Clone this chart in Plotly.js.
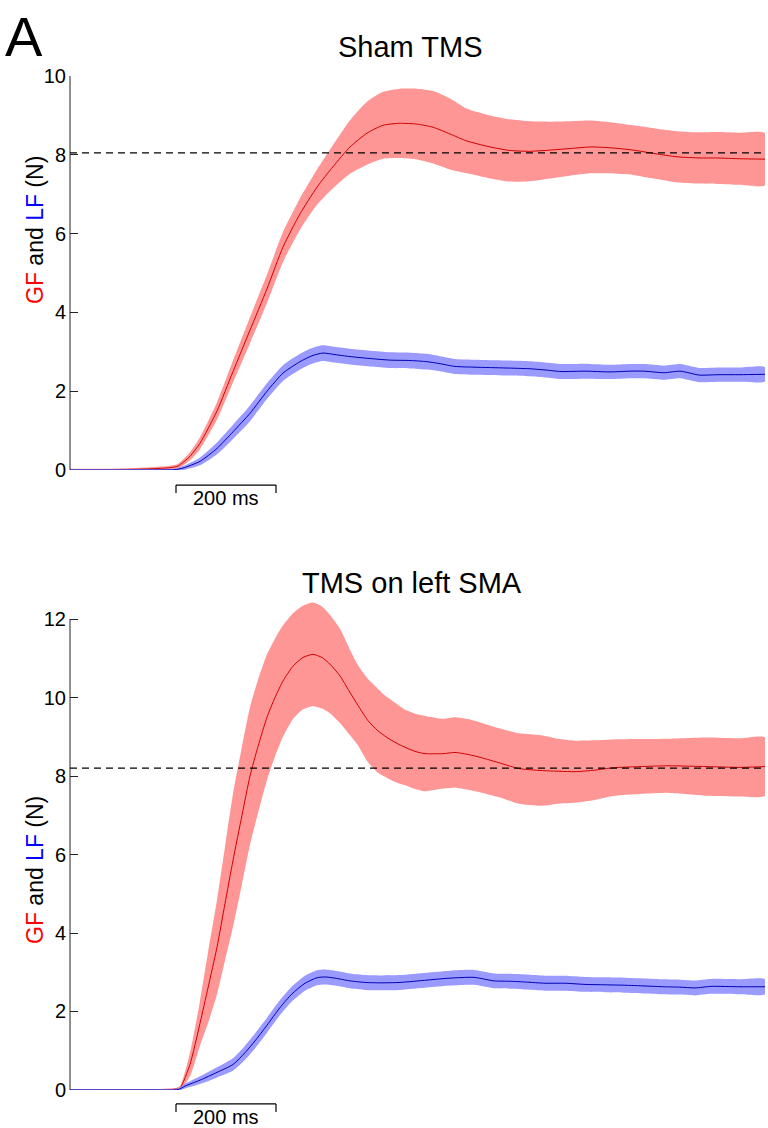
<!DOCTYPE html>
<html>
<head>
<meta charset="utf-8">
<script src="https://cdn.plot.ly/plotly-3.0.1.min.js"></script>
<style>
html,body{margin:0;padding:0;background:#fff;}
#chart{width:768px;height:1128px;}
</style>
</head>
<body>
<div id="chart"></div>
<script>
// ---------- DATA (time in ms, force in N) ----------
// Panel 1: Sham TMS
var shamGF_t   = [0,100,160,200,216,240,260,294,326,360,394,426,460,494,526,560,594,626,660,694,726,760,794,840,880,920,960,1000,1040,1080,1126,1170,1214,1260,1294,1340,1390];
var shamGF_mean= [0,0.01,0.03,0.06,0.1,0.35,0.68,1.5,2.5,3.55,4.6,5.66,6.5,7.18,7.7,8.2,8.55,8.75,8.8,8.78,8.7,8.53,8.35,8.2,8.11,8.09,8.12,8.16,8.2,8.18,8.12,8.03,7.95,7.92,7.92,7.9,7.89];
var shamGF_sem = [0.03,0.03,0.04,0.05,0.06,0.1,0.15,0.22,0.28,0.33,0.36,0.38,0.4,0.45,0.55,0.68,0.8,0.85,0.88,0.9,0.92,0.9,0.82,0.8,0.79,0.76,0.72,0.69,0.67,0.65,0.63,0.64,0.65,0.65,0.66,0.66,0.66];

var shamLF_t   = [0,160,210,226,260,294,326,360,394,426,460,484,506,530,560,600,640,680,714,740,770,810,872,920,950,982,1030,1080,1120,1148,1188,1220,1240,1258,1300,1340,1390];
var shamLF_mean= [0,0,0.01,0.05,0.22,0.55,0.97,1.44,2.0,2.46,2.75,2.9,2.97,2.93,2.88,2.83,2.79,2.78,2.75,2.7,2.63,2.61,2.59,2.57,2.54,2.5,2.51,2.49,2.51,2.51,2.47,2.51,2.46,2.41,2.42,2.42,2.43];
var shamLF_sem = [0.02,0.02,0.03,0.05,0.1,0.15,0.18,0.2,0.2,0.2,0.2,0.2,0.2,0.2,0.2,0.2,0.2,0.2,0.2,0.19,0.19,0.19,0.19,0.19,0.19,0.19,0.19,0.18,0.18,0.18,0.18,0.18,0.18,0.18,0.18,0.18,0.18];

var shamTarget = 8.05;

// Panel 2: TMS on left SMA
var smaGF_t   = [0,160,210,220,240,260,276,294,310,326,344,360,376,394,410,426,446,466,486,504,520,540,558,576,596,616,634,654,672,692,710,746,770,796,822,860,898,942,980,1010,1050,1086,1140,1198,1274,1340,1390];
var smaGF_mean= [0,0,0.02,0.05,0.65,1.7,2.6,3.64,4.75,5.85,7.0,8.0,8.75,9.5,10.0,10.42,10.8,11.02,11.1,11.02,10.85,10.55,10.17,9.8,9.41,9.15,8.98,8.83,8.72,8.62,8.57,8.57,8.6,8.55,8.47,8.33,8.19,8.14,8.12,8.11,8.15,8.21,8.24,8.26,8.24,8.22,8.24];
var smaGF_sem = [0.02,0.02,0.03,0.05,0.3,0.57,0.9,1.2,1.45,1.7,1.75,1.75,1.7,1.6,1.5,1.42,1.35,1.32,1.32,1.3,1.25,1.2,1.1,1.02,1.06,1.07,1.03,1.0,0.96,0.96,0.96,0.89,0.9,0.9,0.89,0.88,0.9,0.9,0.82,0.79,0.76,0.72,0.7,0.69,0.74,0.74,0.74];

var smaLF_t   = [0,160,216,230,260,294,326,350,370,394,420,444,470,494,510,530,560,590,620,660,714,760,808,848,880,912,950,990,1030,1070,1108,1150,1188,1220,1250,1282,1340,1390];
var smaLF_mean= [0,0,0.01,0.1,0.25,0.45,0.65,0.95,1.25,1.65,2.1,2.45,2.72,2.86,2.88,2.85,2.78,2.74,2.73,2.74,2.8,2.85,2.87,2.78,2.77,2.75,2.72,2.72,2.69,2.68,2.67,2.65,2.63,2.62,2.6,2.64,2.63,2.63];
var smaLF_sem = [0.02,0.02,0.03,0.06,0.1,0.13,0.16,0.18,0.19,0.19,0.19,0.19,0.19,0.19,0.19,0.19,0.19,0.19,0.19,0.19,0.19,0.19,0.19,0.19,0.19,0.19,0.19,0.19,0.19,0.19,0.19,0.19,0.19,0.19,0.19,0.19,0.19,0.19];

var smaTarget = 8.2;

var panelTitles = ["Sham TMS", "TMS on left SMA"];
var yTicksTop = [0,2,4,6,8,10];
var yTicksBottom = [0,2,4,6,8,10,12];
var yMaxTop = 10, yMaxBottom = 12;
var timeRange = [0, 1390];
var scaleBarStart = 212;
var scaleBarLength = 200;
var scaleBarLabel = "200 ms";

// ---------- STYLE ----------
var FONT = "Liberation Sans, Arial, Helvetica, sans-serif";
var RED_BAND = "#ff9696", RED_LINE = "#d00000";
var BLUE_BAND = "#9a9aff", BLUE_LINE = "#0000b4";
var AXIS_COLOR = "#222";

function band(t, mean, sem, color, xa, ya) {
  var up = mean.map(function(m,i){return m + sem[i];});
  var lo = mean.map(function(m,i){return m - sem[i];});
  return {
    x: t.concat(t.slice().reverse()),
    y: up.concat(lo.slice().reverse()),
    xaxis: xa, yaxis: ya,
    type: "scatter", mode: "lines",
    fill: "toself", fillcolor: color,
    line: {width: 0, color: color, shape: "spline", smoothing: 0.6},
    hoverinfo: "skip", showlegend: false
  };
}
function meanLine(t, mean, color, xa, ya) {
  return {
    x: t, y: mean, xaxis: xa, yaxis: ya,
    type: "scatter", mode: "lines",
    line: {width: 1, color: color, shape: "spline", smoothing: 0.6},
    showlegend: false
  };
}

var data = [
  band(shamGF_t, shamGF_mean, shamGF_sem, RED_BAND, "x", "y"),
  meanLine(shamGF_t, shamGF_mean, RED_LINE, "x", "y"),
  band(shamLF_t, shamLF_mean, shamLF_sem, BLUE_BAND, "x", "y"),
  meanLine(shamLF_t, shamLF_mean, BLUE_LINE, "x", "y"),
  band(smaGF_t, smaGF_mean, smaGF_sem, RED_BAND, "x2", "y2"),
  meanLine(smaGF_t, smaGF_mean, RED_LINE, "x2", "y2"),
  band(smaLF_t, smaLF_mean, smaLF_sem, BLUE_BAND, "x2", "y2"),
  meanLine(smaLF_t, smaLF_mean, BLUE_LINE, "x2", "y2")
];

var yaxisCommon = {
  showline: false,
  ticks: "inside", ticklen: 8, tickwidth: 1, tickcolor: AXIS_COLOR,
  showgrid: false, zeroline: false,
  tickfont: {family: FONT, size: 20, color: "#000"},
  ticklabelstandoff: 3,
  fixedrange: true
};
var xaxisCommon = {visible: false, range: timeRange, showgrid: false, zeroline: false, fixedrange: true};

function scaleBar(xref, yTop, yBot) {
  var x0 = scaleBarStart, x1 = scaleBarStart + scaleBarLength;
  var ln = {color: "#000", width: 1.2};
  return [
    {type: "line", xref: xref, yref: "paper", x0: x0, x1: x1, y0: yTop, y1: yTop, line: ln},
    {type: "line", xref: xref, yref: "paper", x0: x0, x1: x0, y0: yTop, y1: yBot, line: ln},
    {type: "line", xref: xref, yref: "paper", x0: x1, x1: x1, y0: yTop, y1: yBot, line: ln}
  ];
}
// y-axis spine drawn from 0 to the last tick only
function spine(yref, ymax) {
  return {type: "line", xref: "paper", yref: yref, x0: 0, x1: 0, y0: 0, y1: ymax,
          line: {color: AXIS_COLOR, width: 1}};
}

var yTitle = '<span style="color:#ff0000">GF</span> and <span style="color:#0000ff">LF</span> (N)';

var layout = {
  width: 768, height: 1128,
  margin: {l: 70, r: 3, t: 0, b: 0},
  paper_bgcolor: "#fff", plot_bgcolor: "rgba(0,0,0,0)",
  font: {family: FONT, color: "#000"},
  showlegend: false,
  xaxis: Object.assign({}, xaxisCommon, {domain: [0,1], anchor: "y"}),
  yaxis: Object.assign({}, yaxisCommon, {domain: [0.5833, 0.9326], range: [0, yMaxTop], tickvals: yTicksTop, anchor: "x"}),
  xaxis2: Object.assign({}, xaxisCommon, {domain: [0,1], anchor: "y2"}),
  yaxis2: Object.assign({}, yaxisCommon, {domain: [0.0337, 0.4721], range: [0, 12.6], tickvals: yTicksBottom, anchor: "x2"}),
  shapes: [
    spine("y", yMaxTop),
    spine("y2", yMaxBottom),
    {type: "line", xref: "x", yref: "y", x0: timeRange[0], x1: timeRange[1], y0: shamTarget, y1: shamTarget,
     line: {color: "#000", width: 1.2, dash: "7px,5px"}},
    {type: "line", xref: "x2", yref: "y2", x0: timeRange[0], x1: timeRange[1], y0: smaTarget, y1: smaTarget,
     line: {color: "#000", width: 1.2, dash: "7px,5px"}}
  ].concat(scaleBar("x", 0.5700, 0.5629)).concat(scaleBar("x2", 0.0213, 0.0142)),
  annotations: [
    {text: "A", xref: "paper", yref: "paper", x: -0.097, y: 0.997, xanchor: "left", yanchor: "top",
     showarrow: false, font: {family: FONT, size: 56, color: "#000"}},
    {text: panelTitles[0], xref: "paper", yref: "paper", x: 0.4906, y: 0.9583, xanchor: "center", yanchor: "middle",
     showarrow: false, font: {family: FONT, size: 29, color: "#000"}},
    {text: panelTitles[1], xref: "paper", yref: "paper", x: 0.492, y: 0.4832, xanchor: "center", yanchor: "middle",
     showarrow: false, font: {family: FONT, size: 29, color: "#000"}},
    {text: yTitle, xref: "paper", yref: "paper", x: -0.0504, y: 0.7961, xanchor: "center", yanchor: "middle",
     textangle: -90, showarrow: false, font: {family: FONT, size: 23, color: "#000"}},
    {text: yTitle, xref: "paper", yref: "paper", x: -0.0504, y: 0.2287, xanchor: "center", yanchor: "middle",
     textangle: -90, showarrow: false, font: {family: FONT, size: 23, color: "#000"}},
    {text: scaleBarLabel, xref: "x", yref: "paper", x: scaleBarStart + scaleBarLength/2, y: 0.5585,
     xanchor: "center", yanchor: "middle", showarrow: false, font: {family: FONT, size: 20, color: "#000"}},
    {text: scaleBarLabel, xref: "x2", yref: "paper", x: scaleBarStart + scaleBarLength/2, y: 0.00975,
     xanchor: "center", yanchor: "middle", showarrow: false, font: {family: FONT, size: 20, color: "#000"}}
  ]
};

Plotly.newPlot("chart", data, layout, {staticPlot: true, displayModeBar: false});
</script>
</body>
</html>
